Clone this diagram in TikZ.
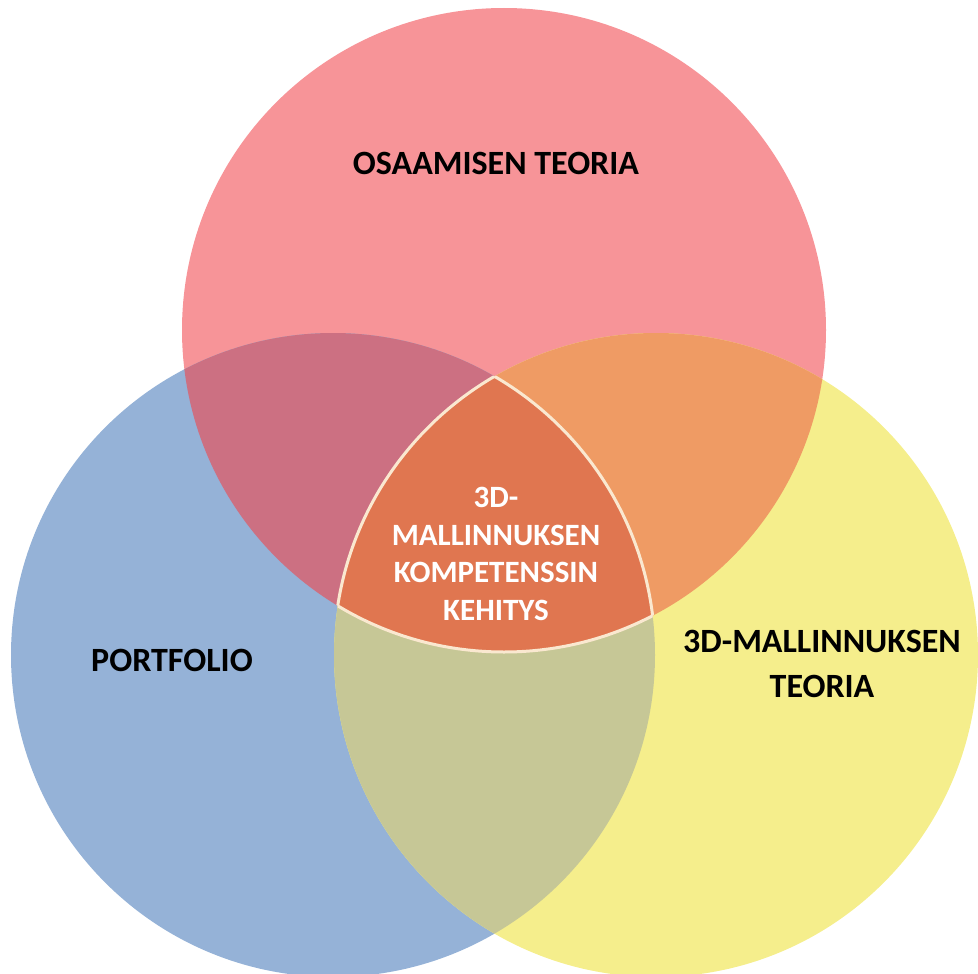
\documentclass[tikz,border=0pt]{standalone}
\usepackage{fontspec}
\setmainfont{Carlito}
\definecolor{cTop}{RGB}{247,148,152}
\definecolor{cLeft}{RGB}{149,178,215}
\definecolor{cRight}{RGB}{245,238,140}
\definecolor{cTL}{RGB}{204,112,130}
\definecolor{cTR}{RGB}{239,155,100}
\definecolor{cLR}{RGB}{198,199,150}
\definecolor{cMid}{RGB}{224,118,80}
\definecolor{cRim}{RGB}{250,232,208}
\begin{document}
\begin{tikzpicture}[x=1pt,y=-1pt,
  lbl/.style={font=\bfseries\fontsize{34}{45}\selectfont, text=black, align=center},
  midlbl/.style={font=\bfseries\fontsize{31}{37.5}\selectfont, text=white, align=center}]
\useasboundingbox (0,0) rectangle (978,974);
\def\R{322pt}
\coordinate (T) at (504,330);
\coordinate (L) at (333,655);
\coordinate (Rc) at (656,655);
% single circles
\fill[cTop] (T) circle (\R);
\fill[cLeft] (L) circle (\R);
\fill[cRight] (Rc) circle (\R);
% pairwise overlaps
\begin{scope}
  \clip (T) circle (\R);
  \fill[cTL] (L) circle (\R);
  \fill[cTR] (Rc) circle (\R);
\end{scope}
\begin{scope}
  \clip (L) circle (\R);
  \fill[cLR] (Rc) circle (\R);
\end{scope}
% centre
\begin{scope}
  \clip (T) circle (\R);
  \clip (L) circle (\R);
  \fill[cMid] (Rc) circle (\R);
\end{scope}
% rim of centre
\begin{scope}
  \clip (T) circle (\R); \clip (L) circle (\R);
  \draw[cRim, line width=3pt] (Rc) circle (\R);
\end{scope}
\begin{scope}
  \clip (T) circle (\R); \clip (Rc) circle (\R);
  \draw[cRim, line width=3pt] (L) circle (\R);
\end{scope}
\begin{scope}
  \clip (L) circle (\R); \clip (Rc) circle (\R);
  \draw[cRim, line width=3pt] (T) circle (\R);
\end{scope}
% labels
\node[lbl] (top) at (496,163) {OSAAMISEN TEORIA};
\node[lbl] (left) at (172,660) {PORTFOLIO};
\node[lbl] (right) at (822,664) {3D-MALLINNUKSEN\\TEORIA};
\node[midlbl] (mid) at (496,554) {3D-\\MALLINNUKSEN\\KOMPETENSSIN\\KEHITYS};
\end{tikzpicture}
\end{document}
